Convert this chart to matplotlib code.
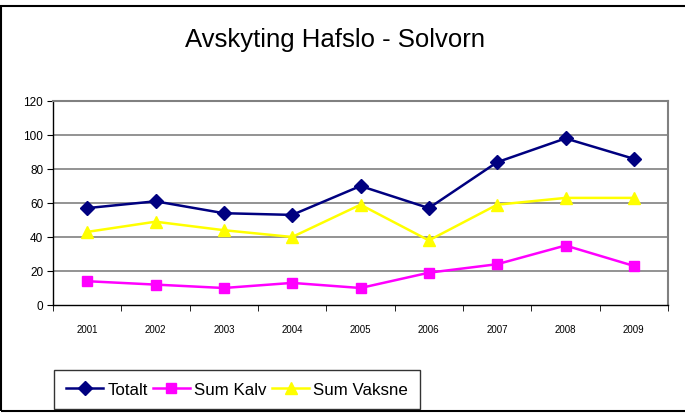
import matplotlib
matplotlib.use("Agg")
import matplotlib.pyplot as plt
from matplotlib.lines import Line2D
from matplotlib.patches import Rectangle
import numpy as np

plt.rcParams["font.family"] = ["Liberation Sans", "DejaVu Sans"]

# --- data ---
years = ["2001", "2002", "2003", "2004", "2005", "2006", "2007", "2008", "2009"]
totalt = [57, 61, 54, 53, 70, 57, 84, 98, 86]
sum_kalv = [14, 12, 10, 13, 10, 19, 24, 35, 23]
sum_vaksne = [43, 49, 44, 40, 59, 38, 59, 63, 63]
yticks = [0, 20, 40, 60, 80, 100, 120]

NAVY = "#000080"
MAGENTA = "#FF00FF"
YELLOW = "#FFFF00"
GRID = "#808080"

STYLES = [
    dict(color=NAVY, marker="D", markersize=7.5, linewidth=1.8),
    dict(color=MAGENTA, marker="s", markersize=7.5, linewidth=1.8),
    dict(color=YELLOW, marker="^", markersize=9, linewidth=1.8),
]

fig = plt.figure(figsize=(6.85, 4.14), dpi=100)

# outer chart frame (right edge runs off the picture)
fig.patches.append(Rectangle((0.002, 0.004), 1.2, 0.98, transform=fig.transFigure,
                             fill=False, edgecolor="black", linewidth=1.5))

ax = fig.add_axes([53 / 685, 108 / 414, 615 / 685, 204 / 414])
x = np.arange(len(years))

ax.plot(x, totalt, label="Totalt", zorder=5, **STYLES[0])
ax.plot(x, sum_kalv, label="Sum Kalv", zorder=4, **STYLES[1])
ax.plot(x, sum_vaksne, label="Sum Vaksne", zorder=3, **STYLES[2])

ax.set_xlim(-0.5, len(years) - 0.5)
ax.set_ylim(0, 120)
ax.set_yticks(yticks)
ax.set_yticklabels([str(v) for v in yticks], fontsize=8.5)
for v in yticks[1:]:
    ax.axhline(v, color=GRID, linewidth=1.2, zorder=1)

ax.set_xticks(x)
ax.set_xticklabels(years, fontsize=7)
ax.tick_params(axis="x", which="major", length=0, pad=14)
ax.set_xticks(np.arange(-0.5, len(years)), minor=True)
ax.tick_params(axis="x", which="minor", length=4, direction="out")
ax.tick_params(axis="y", length=4, direction="out", pad=3)

for side in ["top", "right"]:
    ax.spines[side].set_color(GRID)
    ax.spines[side].set_linewidth(1.5)
for side in ["left", "bottom"]:
    ax.spines[side].set_color("black")
    ax.spines[side].set_linewidth(1)

fig.text(335 / 685, 1 - 40 / 414, "Avskyting Hafslo - Solvorn",
         ha="center", va="center", fontsize=18.5)

handles = [Line2D([], [], **s) for s in STYLES]
leg = fig.legend(handles, ["Totalt", "Sum Kalv", "Sum Vaksne"],
                 loc="upper left", bbox_to_anchor=(54 / 685, 1 - 371 / 414),
                 ncol=3, frameon=True, fancybox=False, fontsize=12.2,
                 handlelength=2.2, handletextpad=0.25, columnspacing=0.3,
                 borderpad=0.7, borderaxespad=0)
leg.get_frame().set_edgecolor("black")
leg.get_frame().set_linewidth(1)

fig.savefig("out.png", dpi=100)
